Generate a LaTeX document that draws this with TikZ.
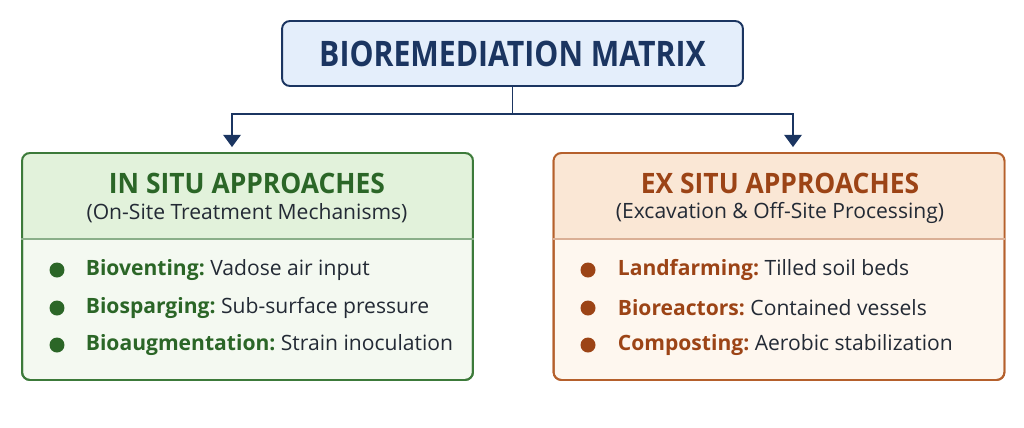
\documentclass[tikz,border=0pt]{standalone}
\usepackage{fontspec}
\setmainfont{Open Sans}
\newfontfamily\narrowbold[FakeStretch=0.86]{Open Sans Bold}
\newfontfamily\headbold[FakeStretch=0.94]{Open Sans Bold}
\usetikzlibrary{arrows.meta}
\definecolor{navy}{HTML}{1B3561}
\definecolor{navyfill}{HTML}{E4EEFB}
\definecolor{grn}{HTML}{3C7A3A}
\definecolor{grntext}{HTML}{2B6627}
\definecolor{grnhead}{HTML}{E2F2DB}
\definecolor{grnbody}{HTML}{F4F9F1}
\definecolor{brn}{HTML}{B5602C}
\definecolor{brntext}{HTML}{9C4416}
\definecolor{brnhead}{HTML}{FAE7D5}
\definecolor{brnbody}{HTML}{FEF7EF}
\definecolor{ink}{HTML}{232A35}
\tikzset{
every picture/.style={
line width=1pt
}}

\begin{document}
\begin{tikzpicture}[x=0.02cm, y=-0.02cm,
title/.style = {rectangle, rounded corners=4.5pt, draw=navy, fill=navyfill, line width=1.1pt,
  minimum width=9.22cm, minimum height=1.3cm, text=navy, font=\narrowbold\fontsize{20}{24}\selectfont},
panel/.style = {rectangle, rounded corners=4.5pt, line width=1.1pt, minimum width=9.02cm, minimum height=4.54cm},
head/.style = {font=\headbold\fontsize{16}{19}\selectfont},
sub/.style = {text=ink, font=\fontsize{12}{14}\selectfont},
dot/.style = {circle, inner sep=0pt, minimum size=0.3cm},
item/.style = {anchor=west, inner sep=0pt, text=ink, font=\fontsize{12}{14}\selectfont},
link/.style = {draw=navy, line width=1.1pt}]

\useasboundingbox (0,0) rectangle (1024,427);

% title
\node[title] (t) at (512.5,53.5) {BIOREMEDIATION MATRIX};

% in situ panel
\node[panel, draw=grn, fill=grnbody] (l) at (247.5,266.5) {};
\coordinate (ls) at (247.5,239);
\fill[grnhead] (l.west |- ls) [rounded corners=4.5pt] -- (l.north west) -- (l.north east) [sharp corners] -- (l.east |- ls) -- cycle;
\node[panel, draw=grn] at (l) {};
\draw[grn!60, line width=0.8pt] (l.west |- ls) -- (l.east |- ls);
\node[head, text=grntext] (lh) at (247,183) {IN SITU APPROACHES};
\node[sub] (lsub) at (247,213) {(On-Site Treatment Mechanisms)};
\node[dot, fill=grntext] (l1) at (57,270) {};
\node[dot, fill=grntext] (l2) at (57,308) {};
\node[dot, fill=grntext] (l3) at (57,345) {};
\node[item] at (85,270) {\textbf{\color{grntext}Bioventing:}\ Vadose air input};
\node[item] at (85,308) {\textbf{\color{grntext}Biosparging:}\ Sub-surface pressure};
\node[item] at (85,345) {\textbf{\color{grntext}Bioaugmentation:}\ Strain inoculation};

% ex situ panel
\node[panel, draw=brn, fill=brnbody] (r) at (779,266.5) {};
\coordinate (rs) at (779,239);
\fill[brnhead] (r.west |- rs) [rounded corners=4.5pt] -- (r.north west) -- (r.north east) [sharp corners] -- (r.east |- rs) -- cycle;
\node[panel, draw=brn] at (r) {};
\draw[brn!50, line width=0.8pt] (r.west |- rs) -- (r.east |- rs);
\node[head, text=brntext] (rh) at (780,183) {EX SITU APPROACHES};
\node[sub] (rsub) at (780,213) {(Excavation \& Off-Site Processing)};
\node[dot, fill=brntext] (r1) at (588,270) {};
\node[dot, fill=brntext] (r2) at (588,308) {};
\node[dot, fill=brntext] (r3) at (588,345) {};
\node[item] at (617,270) {\textbf{\color{brntext}Landfarming:}\ Tilled soil beds};
\node[item] at (617,308) {\textbf{\color{brntext}Bioreactors:}\ Contained vessels};
\node[item] at (617,345) {\textbf{\color{brntext}Composting:}\ Aerobic stabilization};

% connectors
\coordinate (j) at (512.5,114);
\draw[link] (t.south) -- (j);
\draw[link, shorten >=0.1cm, -{Triangle[width=10pt, length=7pt]}] (j) -| ([xshift=-0.31cm]l.north);
\draw[link, shorten >=0.1cm, -{Triangle[width=10pt, length=7pt]}] (j) -| ([xshift=0.28cm]r.north);
\end{tikzpicture}
\end{document}
